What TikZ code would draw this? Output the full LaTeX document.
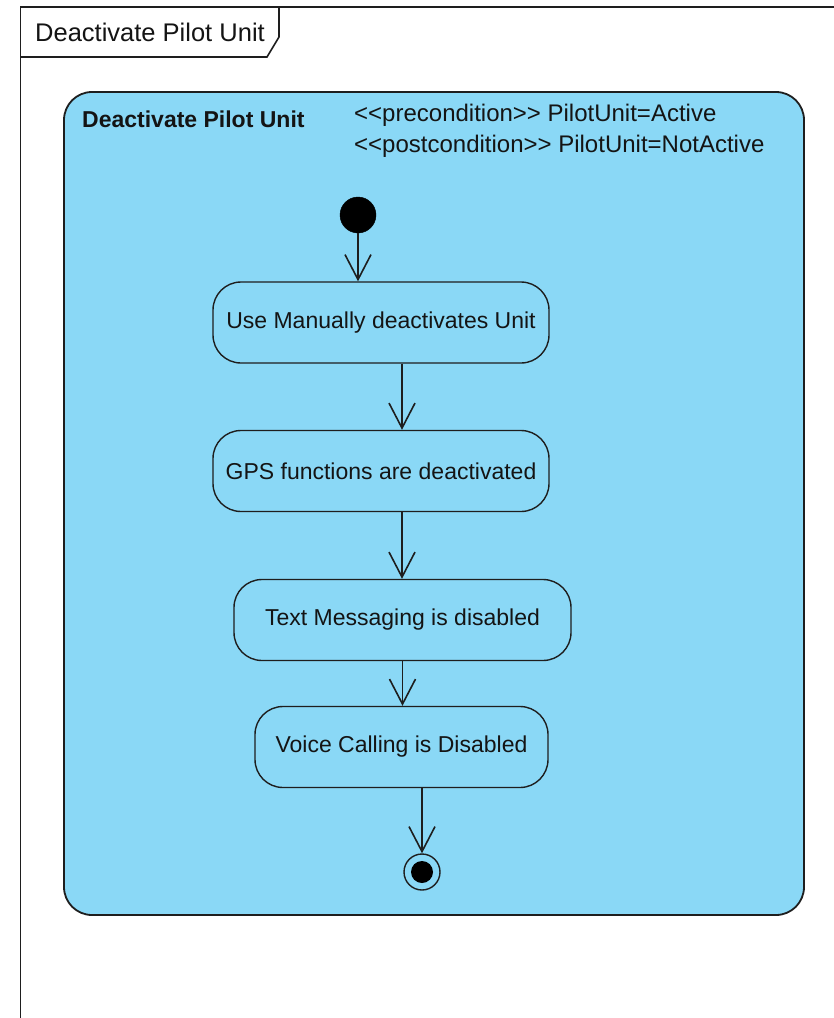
\documentclass[tikz,border=0pt]{standalone}
\usepackage{fontspec}
\setmainfont{Liberation Sans}
\usetikzlibrary{arrows.meta,calc}
\definecolor{actfill}{RGB}{138,216,246}
\definecolor{inkline}{RGB}{30,30,30}
\definecolor{inktext}{RGB}{20,20,20}
\tikzset{
  frameline/.style={draw=inkline,line width=1.6pt},
  container/.style={draw=inkline,line width=1.8pt,fill=actfill,rounded corners=28pt},
  action/.style={draw=inkline,line width=1.4pt,fill=actfill,rounded corners=28pt,
    minimum height=81pt,inner sep=0pt,text=inktext,
    font=\fontsize{23}{27}\selectfont},
  lbl/.style={inner sep=0pt,anchor=base west,text=inktext},
  flow/.style={draw=inkline,line width=1.6pt,
    -{Straight Barb[length=25pt,width=26pt,line width=1.6pt]}},
  initnode/.style={circle,fill=black,draw=black,minimum size=36pt,inner sep=0pt},
  finalring/.style={circle,draw=inkline,line width=1.4pt,fill=actfill,minimum size=36pt,inner sep=0pt},
  finaldot/.style={circle,fill=black,minimum size=22pt,inner sep=0pt}
}
\begin{document}
\begin{tikzpicture}[x=1pt,y=-1pt]
\useasboundingbox (0,0) rectangle (834,1018);
\fill[white] (0,0) rectangle (834,1018);

% diagram frame and its name tab
\draw[frameline] (20.5,1020) -- (20.5,7) -- (836,7);
\draw[frameline] (20.5,57) -- (267,57) -- (279,37) -- (279,7);
\node[lbl,font=\fontsize{25.5}{30}\selectfont] (tabname) at (35,41) {Deactivate Pilot Unit};

% activity container
\draw[container] (64,92) rectangle (804,915);
\node[lbl,font=\fontsize{23}{27}\selectfont\bfseries] (title) at (82,127) {Deactivate Pilot Unit};
\node[lbl,font=\fontsize{24}{28}\selectfont] (pre) at (354,121) {<{}<precondition>{}> PilotUnit=Active};
\node[lbl,font=\fontsize{24}{28}\selectfont] (post) at (354,152) {<{}<postcondition>{}> PilotUnit=NotActive};

% nodes
\node[initnode] (init) at (358,215) {};
\node[action,minimum width=336pt] (a1) at (381,322.5) {Use Manually deactivates Unit};
\node[action,minimum width=336pt] (a2) at (381,471) {GPS functions are deactivated};
\node[action,minimum width=337pt] (a3) at (402.5,620) {Text Messaging is disabled};
\node[action,minimum width=293pt] (a4) at (401.5,747) {Voice Calling is Disabled};
\node[finalring] (final) at (422,872) {};
\node[finaldot] (finaldot) at (final.center) {};

% control flows
\draw[flow] (init.south) -- (init.south |- a1.north);
\draw[flow] ([xshift=21pt]a1.south) -- ([xshift=21pt]a1.south |- a2.north);
\draw[flow] ([xshift=21pt]a2.south) -- ([xshift=21pt]a2.south |- a3.north);
\draw[flow] (a3.south) -- (a3.south |- a4.north);
\draw[flow] ([xshift=20.5pt]a4.south) -- ([xshift=20.5pt]a4.south |- final.north);
\end{tikzpicture}
\end{document}
